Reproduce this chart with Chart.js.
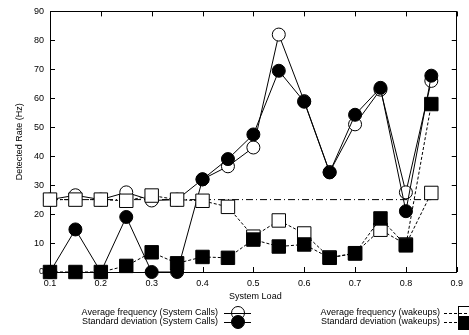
<!DOCTYPE html>
<html><head><meta charset="utf-8">
<script src="https://cdn.jsdelivr.net/npm/chart.js@4/dist/chart.umd.min.js"></script>
<style>html,body{margin:0;padding:0;background:#fff;}#wrap{width:469px;height:335px;}</style>
</head><body><div id="wrap"><canvas id="c" width="469" height="335"></canvas></div>
<script>
const systemLoad = [0.1,0.15,0.2,0.25,0.3,0.35,0.4,0.45,0.5,0.55,0.6,0.65,0.7,0.75,0.8,0.85];
const avgSyscalls = [25,26.5,25,27.5,24.7,25,32,36.5,43,82,59,34.5,51,63,27.5,66];
const stdSyscalls = [0,14.7,0,19,0,0,32,39,47.5,69.5,58.8,34.4,54.3,63.6,21,67.8];
const avgWakeups = [25,25,25,24.6,26.4,25,24.6,22.5,12.2,17.8,13.3,5,6.5,14.6,9.5,27.3];
const stdWakeups = [0,0,0,2.1,6.8,3,5.2,4.9,11.2,8.8,9.5,4.9,6.4,18.5,9.2,58];
const thresholdLoad = [0.1,0.85];
const thresholdRate = [25,25];
const xTicks = [0.1,0.2,0.3,0.4,0.5,0.6,0.7,0.8,0.9];
const yTicks = [0,10,20,30,40,50,60,70,80,90];
const seriesNames = ["Average frequency (System Calls)","Standard deviation (System Calls)","Average frequency (wakeups)","Standard deviation (wakeups)"];

const pts = (xs, ys) => xs.map((x,i)=>({x:x,y:ys[i]}));
const FONT = "Liberation Sans, Arial, Helvetica, sans-serif";

const gnuplotDecor = {
  id:'gnuplotDecor',
  beforeDatasetsDraw(chart){
    const ctx = chart.ctx, a = chart.chartArea, xs = chart.scales.x, ys = chart.scales.y;
    ctx.save();
    ctx.strokeStyle = '#000'; ctx.lineWidth = 1;
    ctx.strokeRect(Math.round(a.left)+0.5, Math.round(a.top)+0.5, Math.round(a.right-a.left)-1, Math.round(a.bottom-a.top));
    ctx.beginPath();
    yTicks.forEach(v=>{ const y=Math.round(ys.getPixelForValue(v))+0.5;
      ctx.moveTo(a.left,y); ctx.lineTo(a.left+5,y); ctx.moveTo(a.right,y); ctx.lineTo(a.right-5,y);});
    xTicks.forEach(v=>{ const x=Math.round(xs.getPixelForValue(v))+0.5;
      ctx.moveTo(x,a.bottom); ctx.lineTo(x,a.bottom-5); ctx.moveTo(x,a.top); ctx.lineTo(x,a.top+5);});
    ctx.stroke();
    ctx.restore();
  },
  afterDraw(chart){
    const ctx = chart.ctx, a = chart.chartArea;
    ctx.save();
    ctx.strokeStyle = '#000'; ctx.lineWidth = 1;
    ctx.fillStyle='#000';
    ctx.font = '9px '+FONT;
    ctx.textAlign='center'; ctx.textBaseline='middle';
    ctx.fillText('System Load', (a.left+a.right)/2+2, 297);
    ctx.save(); ctx.translate(20,(a.top+a.bottom)/2); ctx.rotate(-Math.PI/2);
    ctx.fillText('Detected Rate (Hz)',0,0); ctx.restore();
    // legend
    const rows=[313,322];
    ctx.textAlign='right';
    ctx.fillText(seriesNames[0],218,rows[0]);
    ctx.fillText(seriesNames[1],218,rows[1]);
    ctx.fillText(seriesNames[2],440,rows[0]);
    ctx.fillText(seriesNames[3],440,rows[1]);
    ctx.beginPath();
    ctx.moveTo(224,rows[0]+0.5); ctx.lineTo(251,rows[0]+0.5);
    ctx.moveTo(224,rows[1]+0.5); ctx.lineTo(251,rows[1]+0.5);
    ctx.stroke();
    ctx.beginPath(); ctx.arc(238,rows[0],6.5,0,2*Math.PI); ctx.fillStyle='#fff'; ctx.fill(); ctx.stroke();
    ctx.beginPath(); ctx.moveTo(224,rows[0]+0.5); ctx.lineTo(251,rows[0]+0.5); ctx.stroke();
    ctx.beginPath(); ctx.arc(238,rows[1],6.5,0,2*Math.PI); ctx.fillStyle='#000'; ctx.fill(); ctx.stroke();
    ctx.setLineDash([3,2]);
    ctx.beginPath();
    ctx.moveTo(444,rows[0]+0.5); ctx.lineTo(469,rows[0]+0.5);
    ctx.moveTo(444,rows[1]+0.5); ctx.lineTo(469,rows[1]+0.5);
    ctx.stroke();
    ctx.setLineDash([]);
    ctx.strokeRect(458.5,rows[0]-6.5,13,13);
    ctx.fillStyle='#000'; ctx.fillRect(458,rows[1]-6,14,14);
    ctx.restore();
  }
};

new Chart(document.getElementById('c'),{
  type:'line',
  data:{datasets:[
    {label:seriesNames[3],data:pts(systemLoad,stdWakeups),borderColor:'#000',borderWidth:1,borderDash:[3,2],clip:false,
      pointStyle:'rect',pointRadius:9.5,pointBackgroundColor:'#000',pointBorderColor:'#000',pointBorderWidth:1},
    {label:seriesNames[2],data:pts(systemLoad,avgWakeups),borderColor:'#000',borderWidth:1,borderDash:[3,2],clip:false,
      pointStyle:'rect',pointRadius:9.5,pointBackgroundColor:'#fff',pointBorderColor:'#000',pointBorderWidth:1},
    {label:seriesNames[1],data:pts(systemLoad,stdSyscalls),borderColor:'#000',borderWidth:1,clip:false,
      pointStyle:'circle',pointRadius:6.5,pointBackgroundColor:'#000',pointBorderColor:'#000',pointBorderWidth:1},
    {label:seriesNames[0],data:pts(systemLoad,avgSyscalls),borderColor:'#000',borderWidth:1,clip:false,
      pointStyle:'circle',pointRadius:6.5,pointBackgroundColor:'#fff',pointBorderColor:'#000',pointBorderWidth:1},
    {label:'threshold',data:pts(thresholdLoad,thresholdRate),borderColor:'#000',borderWidth:1,borderDash:[7,3,1,3],pointRadius:0}
  ]},
  options:{
    responsive:false,animation:false,devicePixelRatio:1,
    layout:{padding:{left:0,right:6,top:7,bottom:0}},
    plugins:{legend:{display:false},tooltip:{enabled:false}},
    elements:{line:{tension:0,fill:false}},
    scales:{
      x:{type:'linear',min:0.1,max:0.9,
        afterBuildTicks:s=>{s.ticks=xTicks.map(v=>({value:v}));},
        afterFit:s=>{s.height=63;},
        grid:{display:false,drawTicks:false},border:{display:false},
        ticks:{padding:6,color:'#000',font:{family:FONT,size:9},maxRotation:0,autoSkip:false,callback:v=>v.toFixed(1)}},
      y:{type:'linear',min:0,max:90,
        afterBuildTicks:s=>{s.ticks=yTicks.map(v=>({value:v}));},
        afterFit:s=>{s.width=50;},
        grid:{display:false,drawTicks:false},border:{display:false},
        ticks:{padding:6,color:'#000',font:{family:FONT,size:9},callback:v=>String(v)}}
    }
  },
  plugins:[gnuplotDecor]
});
</script></body></html>
